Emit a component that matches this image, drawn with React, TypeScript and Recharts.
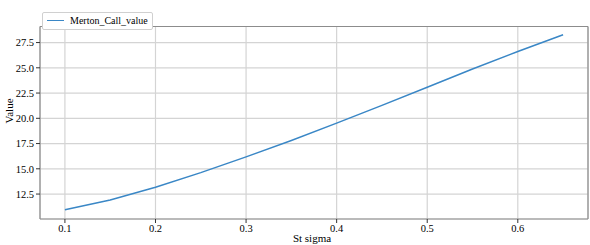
import React from 'react';
import {
  LineChart,
  Line,
  XAxis,
  YAxis,
  CartesianGrid,
  ReferenceLine,
  Legend
} from 'recharts';

// St sigma values and the Merton call value
const sigmas = [0.1, 0.15, 0.2, 0.25, 0.3, 0.35, 0.4, 0.45, 0.5, 0.55, 0.6, 0.65];
const callValues = [10.94, 11.92, 13.18, 14.62, 16.18, 17.8, 19.52, 21.28, 23.08, 24.88, 26.62, 28.28];

const xTicks = [0.1, 0.2, 0.3, 0.4, 0.5, 0.6];
const yTicks = [12.5, 15.0, 17.5, 20.0, 22.5, 25.0, 27.5];

const xDomain: [number, number] = [0.0725, 0.6775];
const yDomain: [number, number] = [10.03, 29.09];

const FONT = '"Liberation Serif", "Times New Roman", "DejaVu Serif", serif';
const SPINE = '#8c8c8c';
const GRID = '#d4d4d4';
const LINE = '#3a87c6';

const data = sigmas.map((s, i) => ({ sigma: s, Merton_Call_value: callValues[i] }));

const legendContent = () => (
  <div
    style={{
      display: 'inline-flex',
      alignItems: 'center',
      boxSizing: 'border-box',
      height: 18,
      border: '1px solid #d0d0d0',
      borderRadius: 2,
      background: '#fff',
      padding: '0 4px 0 4px',
      fontFamily: FONT,
      fontSize: 10,
      color: '#000'
    }}
  >
    <span style={{ display: 'inline-block', width: 17, height: 0, borderTop: `1.5px solid ${LINE}`, marginRight: 6 }} />
    <span>Merton_Call_value</span>
  </div>
);

const yLabel = () => (
  <text
    x={9}
    y={111}
    transform="rotate(-90 9 111)"
    textAnchor="middle"
    dominantBaseline="central"
    style={{ fontFamily: FONT, fontSize: 11, fill: '#000' }}
  >
    Value
  </text>
);

export default function App() {
  return (
    <div style={{ position: 'absolute', left: 0, top: 0, width: 590, height: 245, background: '#fff' }}>
      <LineChart width={590} height={245} data={data} margin={{ top: 4, right: 2, bottom: 0, left: 0 }}>
        <CartesianGrid stroke={GRID} strokeWidth={1.2} vertical horizontal />
        <XAxis
          dataKey="sigma"
          type="number"
          domain={xDomain}
          ticks={xTicks}
          allowDataOverflow
          height={26}
          tickSize={4}
          tickLine={{ stroke: '#333' }}
          axisLine={{ stroke: SPINE, strokeWidth: 1.2 }}
          tick={{ fontFamily: FONT, fontSize: 10.5, fill: '#000' }}
          tickFormatter={(v: number) => String(Number(v.toFixed(1)))}
          label={{ value: 'St sigma', position: 'insideBottom', offset: 3, dx: -2, style: { fontFamily: FONT, fontSize: 11, fill: '#000' } }}
        />
        <YAxis
          type="number"
          domain={yDomain}
          ticks={yTicks}
          allowDataOverflow
          width={40}
          tickSize={4}
          tickLine={{ stroke: '#333' }}
          axisLine={{ stroke: SPINE, strokeWidth: 1.2 }}
          tick={{ fontFamily: FONT, fontSize: 10.5, fill: '#000' }}
          tickFormatter={(v: number) => v.toFixed(1)}
          label={yLabel}
        />
        <ReferenceLine y={yDomain[1]} stroke={SPINE} strokeWidth={1.2} />
        <ReferenceLine x={xDomain[1]} stroke={SPINE} strokeWidth={1.2} />
        <Legend
          verticalAlign="top"
          align="left"
          content={legendContent}
          wrapperStyle={{ top: 7, left: 42, width: 'auto' }}
        />
        <Line
          type="linear"
          dataKey="Merton_Call_value"
          stroke={LINE}
          strokeWidth={1.5}
          dot={false}
          isAnimationActive={false}
        />
      </LineChart>
    </div>
  );
}
